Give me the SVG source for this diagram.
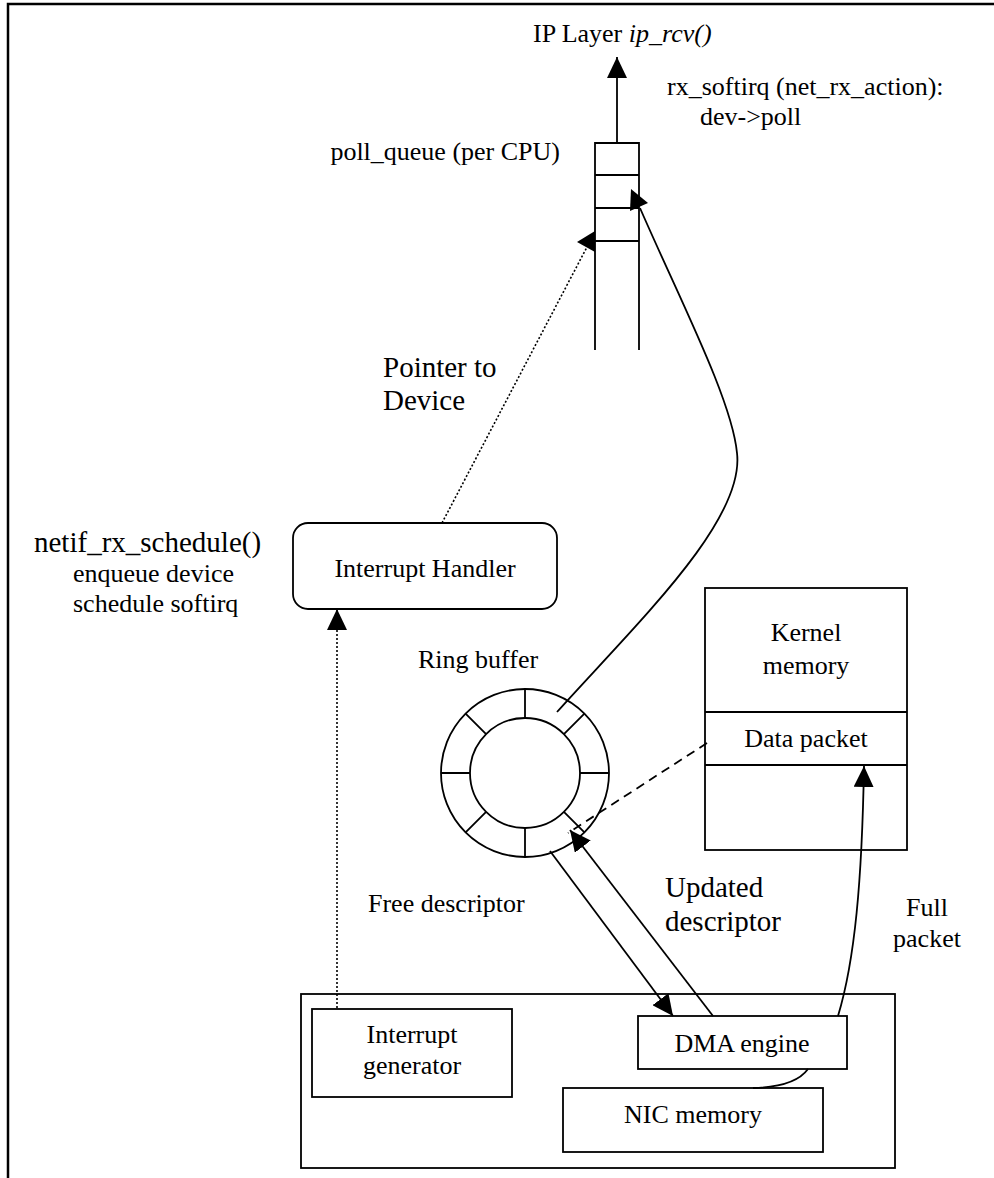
<svg xmlns="http://www.w3.org/2000/svg" width="994" height="1178" viewBox="0 0 994 1178">
<style>
  text { font-family: "Liberation Serif", "Times New Roman", serif; fill: #000; }
  .n { font-size: 26px; }
  .b { font-size: 29px; }
  .c { text-anchor: middle; }
  .shape { fill: #fff; stroke: #000; stroke-width: 1.8; }
  .ln { fill: none; stroke: #000; stroke-width: 1.8; }
  .dot { fill: none; stroke: #000; stroke-width: 1.6; stroke-dasharray: 2 2; }
  .dash { fill: none; stroke: #000; stroke-width: 1.8; stroke-dasharray: 9 6; }
  .head { fill: #000; stroke: none; }
</style>
<defs>
  <marker id="arr" viewBox="0 0 21 20" refX="21" refY="10" markerWidth="21" markerHeight="20" markerUnits="userSpaceOnUse" orient="auto">
    <path d="M0,0 L21,10 L0,20 Z" fill="#000"/>
  </marker>
</defs>
<rect width="994" height="1178" fill="#fff"/>
<path d="M8,1178 V4 H994" fill="none" stroke="#000" stroke-width="2.5"/>

<g id="ip-layer">
  <text class="n" x="533" y="42">IP Layer <tspan font-style="italic">ip_rcv()</tspan></text>
</g>
<g id="rx-softirq-label">
  <text class="n" x="667" y="95">rx_softirq (net_rx_action):</text>
  <text class="n" x="700" y="125">dev-&gt;poll</text>
</g>
<g id="poll-queue">
  <text class="n" x="560" y="160" text-anchor="end">poll_queue (per CPU)</text>
  <path class="ln" d="M595,350 V143 H639 V350 M595,175 H639 M595,208 H639 M595,241 H639"/>
</g>
<g id="pointer-label">
  <text class="b" x="383" y="377">Pointer to</text>
  <text class="b" x="383" y="410">Device</text>
</g>
<g id="netif-label">
  <text class="b" x="34" y="552">netif_rx_schedule()</text>
  <text class="n" x="73" y="582">enqueue device</text>
  <text class="n" x="73" y="612">schedule softirq</text>
</g>
<g id="interrupt-handler">
  <rect class="shape" x="293" y="523" width="264" height="86" rx="15"/>
  <text class="n c" x="425" y="577">Interrupt Handler</text>
</g>
<g id="ring-buffer">
  <text class="n" x="418" y="668">Ring buffer</text>
  <circle class="shape" cx="525" cy="773" r="84"/>
  <circle class="shape" cx="525" cy="773" r="55"/>
  <path class="ln" d="M525,689 V718 M525,828 V857 M441,773 H470 M580,773 H609 M584.4,713.6 L563.9,734.1 M465.6,832.4 L486.1,811.9 M465.6,713.6 L486.1,734.1 M584.4,832.4 L563.9,811.9"/>
</g>
<g id="kernel-memory">
  <rect class="shape" x="705" y="588" width="202" height="262"/>
  <path class="ln" d="M705,712 H907 M705,765 H907"/>
  <text class="n c" x="806" y="641">Kernel</text>
  <text class="n c" x="806" y="674">memory</text>
  <text class="n c" x="806" y="747">Data packet</text>
</g>
<g id="free-descriptor-label">
  <text class="n" x="368" y="912">Free descriptor</text>
</g>
<g id="updated-descriptor-label">
  <text class="b" x="665" y="897">Updated</text>
  <text class="b" x="665" y="931">descriptor</text>
</g>
<g id="full-packet-label">
  <text class="n c" x="927" y="916">Full</text>
  <text class="n c" x="927" y="947">packet</text>
</g>
<g id="nic">
  <rect class="shape" x="301" y="994" width="594" height="174"/>
</g>
<g id="interrupt-generator">
  <rect class="shape" x="312" y="1009" width="200" height="88"/>
  <text class="n c" x="412" y="1043">Interrupt</text>
  <text class="n c" x="412" y="1074">generator</text>
</g>
<g id="dma-engine">
  <rect class="shape" x="638" y="1016" width="209" height="53"/>
  <text class="n c" x="742" y="1052">DMA engine</text>
</g>
<g id="nic-memory">
  <rect class="shape" x="563" y="1088" width="260" height="64"/>
  <text class="n c" x="693" y="1123">NIC memory</text>
</g>

<g id="connectors">
  <path class="ln" d="M617,143 V57" marker-end="url(#arr)"/>
  <path class="dot" d="M442,523 L587,247"/>
  <polygon class="head" points="595,231 577,242 595,252"/>
  <path class="ln" d="M557,712 C640,620 745,520 737,453 C732,400 680,300 640,208"/>
  <polygon class="head" points="631,189 648,203 630,211"/>
  <path class="dot" d="M337,1008 V609" marker-end="url(#arr)"/>
  <path class="dash" d="M707,743 L568,833"/>
  <path class="ln" d="M550,851 L673,1016" marker-end="url(#arr)"/>
  <path class="ln" d="M713,1016 L570,830" marker-end="url(#arr)"/>
  <path class="ln" d="M838,1016 C855,960 862,880 864,766" marker-end="url(#arr)"/>
  <path class="ln" d="M808,1069 Q795,1087 753,1088"/>
</g>
</svg>
